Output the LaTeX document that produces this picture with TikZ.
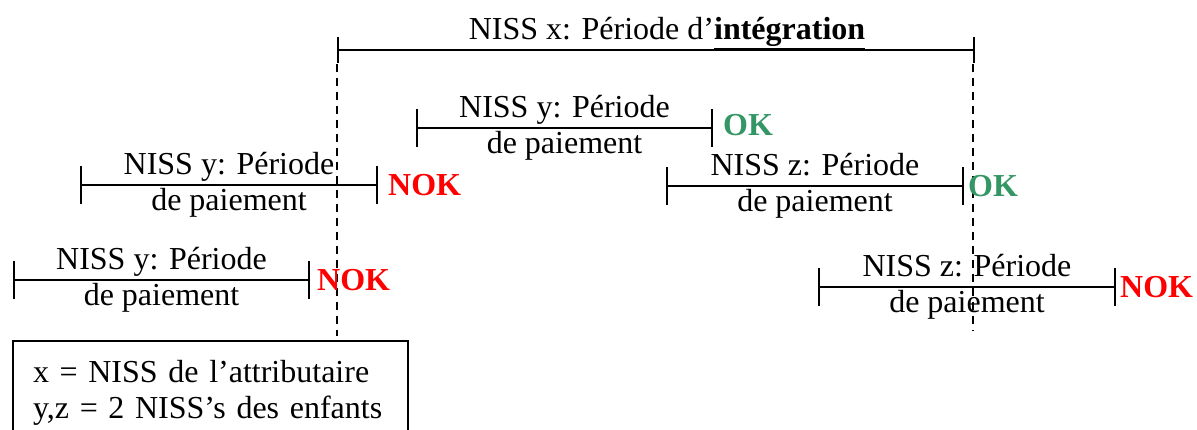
\documentclass[tikz,border=0pt]{standalone}
\usepackage{fontspec}
\setmainfont{Liberation Serif}
\usetikzlibrary{arrows.meta,positioning}
\definecolor{okgreen}{RGB}{52,150,100}
\begin{document}
\begin{tikzpicture}[x=1pt,y=-1pt,
  every node/.style={font=\fontsize{32}{36}\selectfont},
  period/.style={line width=2pt,{Bar[width=38pt]}-{Bar[width=38pt]}},
  lbl/.style={align=center,inner sep=0pt},
  ok/.style={font=\fontsize{32}{36}\selectfont\bfseries,text=okgreen,inner sep=0pt},
  nok/.style={font=\fontsize{32}{36}\selectfont\bfseries,text=red,inner sep=0pt}]
\useasboundingbox (0,0) rectangle (1197,430);
% integration period of x
\coordinate (xs) at (337,50);
\coordinate (xe) at (975,50);
\draw[line width=2pt,{Bar[width=26pt]}-{Bar[width=26pt]}] (xs) -- (xe);
\node[anchor=base,inner sep=0pt] (xl) at (667,40) {NISS x: Période d’\underline{\textbf{intégration}}};
\coordinate (dl) at (337,336);
\coordinate (dr) at (973,331);
\draw[line width=2pt,dash pattern=on 8pt off 6pt] ([yshift=-14pt]xs) -- (dl);
\draw[line width=2pt,dash pattern=on 8pt off 6pt] ([yshift=-14pt,xshift=-2pt]xe) -- (dr);
% payment periods of y and z
\coordinate (p1s) at (416,128); \coordinate (p1e) at (713,128);
\coordinate (p2s) at (80,185);  \coordinate (p2e) at (378,185);
\coordinate (p3s) at (666,186); \coordinate (p3e) at (964,186);
\coordinate (p4s) at (13,280);  \coordinate (p4e) at (310,280);
\coordinate (p5s) at (818,287); \coordinate (p5e) at (1116,287);
\draw[period] (p1s) -- node[lbl] (p1l) {NISS y: Période\\de paiement} (p1e);
\draw[period] (p2s) -- node[lbl] (p2l) {NISS y: Période\\de paiement} (p2e);
\draw[period] (p3s) -- node[lbl] (p3l) {NISS z: Période\\de paiement} (p3e);
\draw[period] (p4s) -- node[lbl] (p4l) {NISS y: Période\\de paiement} (p4e);
\draw[period] (p5s) -- node[lbl] (p5l) {NISS z: Période\\de paiement} (p5e);
\node[ok,right=10pt of p1e,yshift=3pt] (p1r) {OK};
\node[nok,right=10pt of p2e] (p2r) {NOK};
\node[ok,right=4pt of p3e] (p3r) {OK};
\node[nok,right=7pt of p4e] (p4r) {NOK};
\node[nok,right=4pt of p5e] (p5r) {NOK};
% legend
\node[draw,line width=2pt,anchor=north west,align=left,text width=355pt,
  inner xsep=20pt,inner ysep=19pt] (key) at (12,340)
  {x = NISS de l’attributaire\\y,z = 2 NISS’s des enfants};
\end{tikzpicture}
\end{document}
